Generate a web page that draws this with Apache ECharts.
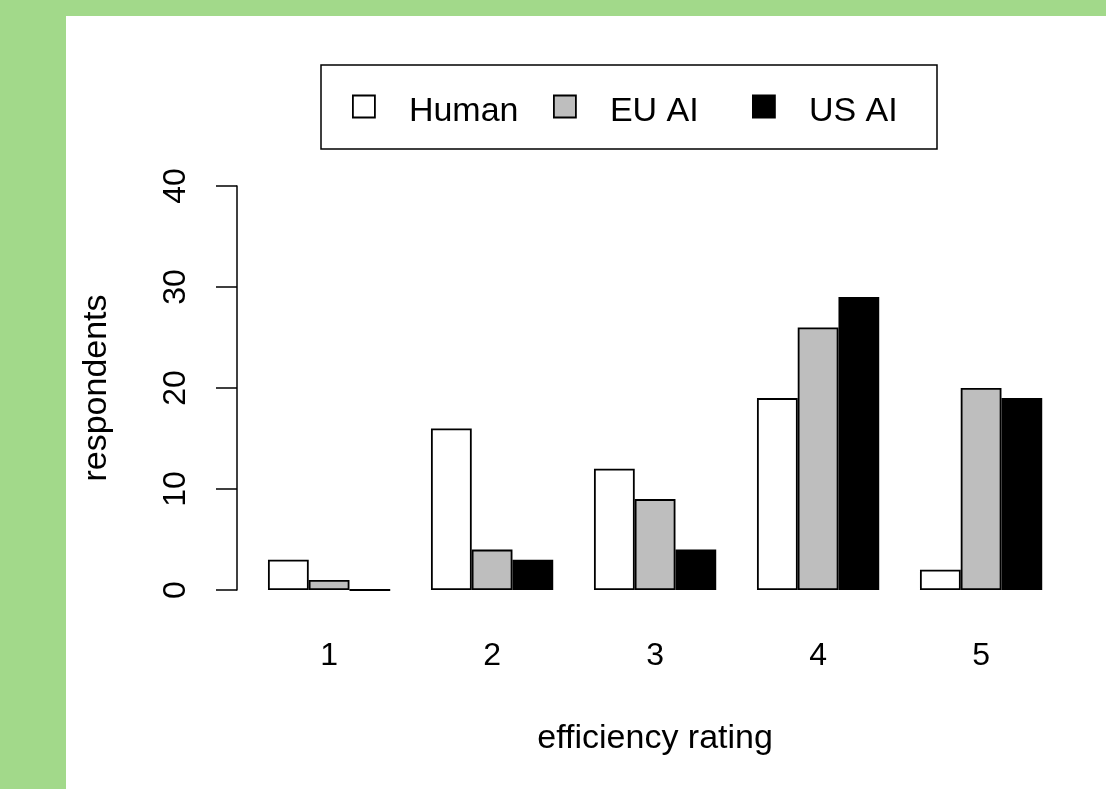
<!DOCTYPE html>
<html>
<head>
<meta charset="utf-8">
<script src="https://cdn.jsdelivr.net/npm/echarts@6/dist/echarts.min.js"></script>
<style>
  html, body { margin: 0; padding: 0; background: #a2d98a; }
  #wrap { position: absolute; left: 0; top: 0; width: 1106px; height: 789px; background: #a2d98a; }
  #chart { position: absolute; left: 66px; top: 16px; width: 1040px; height: 773px; background: #ffffff; }
</style>
</head>
<body>
<div id="wrap"><div id="chart"></div></div>
<script>
// Efficiency ratings (1-5) given by respondents to each agent
const ratings = ['1', '2', '3', '4', '5'];
const seriesNames = ['Human', 'EU AI', 'US AI'];
const human = [3, 16, 12, 19, 2];
const euAI = [1, 4, 9, 26, 20];
const usAI = [0, 3, 4, 29, 19];
const yTicks = { min: 0, max: 40, interval: 10 };

const FONT = '"Liberation Sans", Arial, sans-serif';
const FS = 34;      // titles and legend
const FS_TICK = 32; // tick labels
// chart div is offset by (66,16) inside the page
const OX = 66, OY = 16;

const chart = echarts.init(document.getElementById('chart'), null, { renderer: 'canvas' });

function barSeries(name, data, color) {
  return {
    name: name,
    type: 'bar',
    data: data,
    barGap: '0%',
    barCategoryGap: '25%',
    itemStyle: { color: color, borderColor: '#000', borderWidth: 1.8 },
    emphasis: { disabled: true },
    animation: false
  };
}

// one legend entry per column, like a horizontal base-graphics legend
const legendLefts = [352, 553, 752];
const legends = seriesNames.map(function (n, i) {
  return {
    left: legendLefts[i] - OX,
    top: 94.5 - OY,
    padding: 0,
    itemWidth: 22,
    itemHeight: 22,
    icon: 'rect',
    selectedMode: false,
    itemStyle: { borderColor: '#000', borderWidth: 1.8 },
    formatter: '{t|{name}}',
    textStyle: {
      fontFamily: FONT,
      fontSize: FS,
      color: '#000',
      rich: {
        t: {
          fontFamily: FONT,
          fontSize: FS,
          color: '#000',
          padding: [10, 0, 0, 29]
        }
      }
    },
    data: [n]
  };
});

chart.setOption({
  animation: false,
  backgroundColor: '#ffffff',
  textStyle: { fontFamily: FONT },
  grid: {
    left: 247.6 - OX,
    right: 43.4,
    top: 186 - OY,
    bottom: 789 - 590,
    containLabel: false
  },
  graphic: [{
    type: 'rect',
    shape: { x: 321 - OX, y: 65 - OY, width: 616, height: 84 },
    style: { fill: '#fff', stroke: '#000', lineWidth: 1.5 },
    z: -1
  }],
  legend: legends,
  xAxis: {
    type: 'category',
    data: ratings,
    axisLine: { show: false },
    axisTick: { show: false },
    axisLabel: { fontSize: FS_TICK, color: '#000', margin: 50, lineHeight: 32 },
    name: 'efficiency rating',
    nameLocation: 'middle',
    nameGap: 132,
    nameTextStyle: { fontSize: FS, color: '#000', fontFamily: FONT }
  },
  yAxis: {
    type: 'value',
    min: yTicks.min,
    max: yTicks.max,
    interval: yTicks.interval,
    offset: 10.6,
    splitLine: { show: false },
    axisLine: { show: true, lineStyle: { color: '#000', width: 1.5 } },
    axisTick: { show: true, length: 21, lineStyle: { color: '#000', width: 1.5 } },
    axisLabel: { fontSize: FS_TICK, color: '#000', rotate: 90, margin: 45 },
    name: 'respondents',
    nameLocation: 'middle',
    nameGap: 123,
    nameRotate: 90,
    nameTextStyle: { fontSize: FS, color: '#000', fontFamily: FONT }
  },
  series: [
    barSeries(seriesNames[0], human, '#ffffff'),
    barSeries(seriesNames[1], euAI, '#bebebe'),
    barSeries(seriesNames[2], usAI, '#000000')
  ]
});
</script>
</body>
</html>
